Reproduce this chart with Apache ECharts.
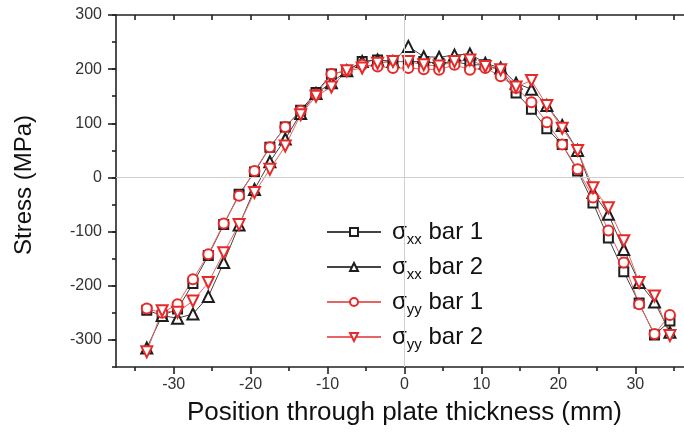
<!DOCTYPE html>
<html>
<head>
<meta charset="utf-8">
<script src="https://cdn.jsdelivr.net/npm/echarts@6/dist/echarts.min.js"></script>
<style>
  html, body { margin: 0; padding: 0; background: #fff; }
  #main { width: 684px; height: 432px; }
</style>
</head>
<body>
<div id="main"></div>
<script>
// positions through the plate (mm)
var positions = [-33.5, -31.5, -29.5, -27.5, -25.5, -23.5, -21.5, -19.5, -17.5, -15.5,
  -13.5, -11.5, -9.5, -7.5, -5.5, -3.5, -1.5, 0.5, 2.5, 4.5,
  6.5, 8.5, 10.5, 12.5, 14.5, 16.5, 18.5, 20.5, 22.5, 24.5,
  26.5, 28.5, 30.5, 32.5, 34.5];

// stress values (MPa)
var sxxBar1 = [-245, -255, -243, -196, -144, -87, -31, 10, 56, 93,
  124, 157, 191, 197, 214, 217, 214, 214, 214, 211,
  214, 208, 208, 199, 156, 126, 90, 61, 12, -47,
  -112, -174, -232, -291, -265];
var sxxBar2 = [-315, -255, -260, -252, -220, -157, -88, -22, 29, 71,
  118, 155, 175, 197, 214, 217, 214, 242, 223, 222,
  226, 228, 211, 202, 174, 163, 133, 96, 50, -28,
  -68, -133, -194, -230, -286];
var syyBar1 = [-242, -250, -234, -188, -142, -85, -34, 12, 56, 93,
  123, 153, 191, 197, 208, 205, 202, 202, 200, 199,
  208, 199, 202, 187, 165, 139, 102, 61, 15, -37,
  -98, -157, -234, -289, -254];
var syyBar2 = [-322, -246, -249, -228, -194, -139, -87, -28, 15, 58,
  116, 150, 167, 197, 202, 211, 214, 214, 208, 206,
  214, 217, 205, 199, 167, 179, 133, 91, 50, -19,
  -56, -117, -194, -219, -292];

// axis ticks
var xLabels = [-30, -20, -10, 0, 10, 20, 30];
var xMinor = [-35, -25, -15, -5, 5, 15, 25, 35];
var xAll = [-35, -30, -25, -20, -15, -10, -5, 0, 5, 10, 15, 20, 25, 30, 35];
var yMajor = [-300, -200, -100, 0, 100, 200, 300];

var seriesNames = ['σxx bar 1', 'σxx bar 2', 'σyy bar 1', 'σyy bar 2'];
var legendText = {
  'σxx bar 1': '{g|σ}{sub|xx}{t| bar 1}',
  'σxx bar 2': '{g|σ}{sub|xx}{t| bar 2}',
  'σyy bar 1': '{g|σ}{sub|yy}{t| bar 1}',
  'σyy bar 2': '{g|σ}{sub|yy}{t| bar 2}'
};

function pairs(vals) {
  var out = [];
  for (var i = 0; i < positions.length; i++) {
    out.push([positions[i], vals[i]]);
  }
  return out;
}

var FONT = 'Liberation Sans, Arial, sans-serif';
var AXIS_COLOR = '#222';
var BLACK_LINE = '#444';
var BLACK_MARK = '#1e1e1e';
var RED_LINE = '#e66464';
var RED_MARK = '#e62a2a';

function makeSeries(name, vals, symbol, rotate, lineColor, markColor, size) {
  return {
    name: name,
    type: 'line',
    data: pairs(vals),
    xAxisIndex: 0,
    yAxisIndex: 0,
    symbol: symbol,
    symbolSize: size,
    symbolRotate: rotate,
    showAllSymbol: true,
    lineStyle: { color: lineColor, width: 1 },
    itemStyle: { color: markColor, borderColor: markColor, borderWidth: 1.2 },
    emphasis: { disabled: true }
  };
}

var chart = echarts.init(document.getElementById('main'));

var aoSer = [
  makeSeries(seriesNames[0], sxxBar1, 'emptyRect', 0, BLACK_LINE, BLACK_MARK, 9),
  makeSeries(seriesNames[1], sxxBar2, 'emptyTriangle', 0, BLACK_LINE, BLACK_MARK, 11),
  makeSeries(seriesNames[2], syyBar1, 'emptyCircle', 0, RED_LINE, RED_MARK, 10),
  makeSeries(seriesNames[3], syyBar2, 'emptyTriangle', 180, RED_LINE, RED_MARK, 11)
];
// zero reference lines
aoSer[0].markLine = {
  silent: true,
  symbol: ['none', 'none'],
  label: { show: false },
  lineStyle: { color: '#cfcfcf', width: 1, type: 'solid' },
  data: [{ yAxis: 0 }, { xAxis: 0 }]
};

var oOpt = {
  animation: false,
  backgroundColor: '#fff',
  textStyle: { fontFamily: FONT },
  grid: {
    left: 116,
    right: -9,
    top: 15,
    bottom: 65,
    containLabel: false,
    outerBoundsMode: 'none'
  },
  legend: {
    orient: 'vertical',
    left: 321,
    top: 215,
    itemWidth: 54,
    itemHeight: 10,
    itemGap: 7.5,
    data: seriesNames,
    selectedMode: false,
    formatter: function (name) { return legendText[name]; },
    textStyle: {
      padding: [0, 0, 0, 6],
      rich: {
        g: { fontSize: 24, fontFamily: FONT, color: '#111' },
        sub: { fontSize: 15, fontFamily: FONT, color: '#111', padding: [16, 0, 0, 0] },
        t: { fontSize: 24, fontFamily: FONT, color: '#111' }
      }
    }
  },
  xAxis: [{
    type: 'value',
    min: -37.5,
    max: 37.5,
    position: 'bottom',
    name: 'Position through plate thickness (mm)',
    nameLocation: 'middle',
    nameGap: 33,
    nameTextStyle: { fontSize: 26, color: '#111', fontFamily: FONT },
    axisLine: { show: true, onZero: false, lineStyle: { color: AXIS_COLOR, width: 1.6 } },
    axisTick: { show: true, length: 7, customValues: xLabels, lineStyle: { color: AXIS_COLOR, width: 1.6 } },
    axisLabel: { customValues: xLabels, fontSize: 16, color: '#333', margin: 10 },
    splitLine: { show: false }
  }, {
    type: 'value',
    min: -37.5,
    max: 37.5,
    position: 'bottom',
    axisLine: { show: false, onZero: false },
    axisTick: { show: true, length: 4, customValues: xMinor, lineStyle: { color: AXIS_COLOR, width: 1.6 } },
    axisLabel: { show: false },
    splitLine: { show: false }
  }, {
    type: 'value',
    min: -37.5,
    max: 37.5,
    position: 'top',
    axisLine: { show: true, onZero: false, lineStyle: { color: AXIS_COLOR, width: 1.6 } },
    axisTick: { show: true, inside: true, length: 5, customValues: xAll, lineStyle: { color: AXIS_COLOR, width: 1.6 } },
    axisLabel: { show: false },
    splitLine: { show: false }
  }],
  yAxis: [{
    type: 'value',
    min: -350,
    max: 300,
    interval: 50,
    position: 'left',
    name: 'Stress (MPa)',
    nameLocation: 'middle',
    nameGap: 80,
    nameTextStyle: { fontSize: 24, color: '#111', fontFamily: FONT, padding: [0, 0, 0, 12] },
    axisLine: { show: true, onZero: false, lineStyle: { color: AXIS_COLOR, width: 1.6 } },
    axisTick: { show: true, length: 4, lineStyle: { color: AXIS_COLOR, width: 1.6 } },
    axisLabel: {
      fontSize: 16,
      color: '#333',
      margin: 14,
      formatter: function (v) { return v % 100 === 0 ? String(v) : ''; }
    },
    splitLine: { show: false }
  }, {
    type: 'value',
    min: -350,
    max: 300,
    position: 'left',
    axisLine: { show: false, onZero: false },
    axisTick: { show: true, length: 8, customValues: yMajor, lineStyle: { color: AXIS_COLOR, width: 1.6 } },
    axisLabel: { show: false },
    splitLine: { show: false }
  }, {
    type: 'value',
    min: -350,
    max: 300,
    position: 'right',
    axisLine: { show: true, onZero: false, lineStyle: { color: AXIS_COLOR, width: 1.6 } },
    axisTick: { show: true, inside: true, length: 7, customValues: yMajor, lineStyle: { color: AXIS_COLOR, width: 1.6 } },
    axisLabel: { show: false },
    splitLine: { show: false }
  }],
  series: aoSer
};

chart.setOption(oOpt);
</script>
</body>
</html>
